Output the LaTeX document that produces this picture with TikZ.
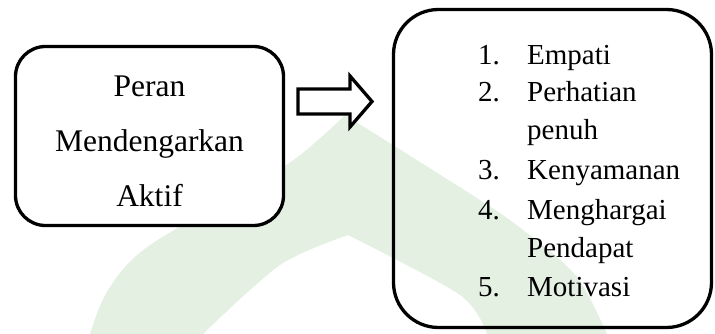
\documentclass[tikz,border=0pt]{standalone}
\usepackage{fontspec}
\setmainfont{Liberation Serif}
\definecolor{wm}{RGB}{228,240,226}
\begin{document}
\begin{tikzpicture}[x=1pt,y=-1pt,
  box/.style={draw=black, line width=3.3pt},
  lbl/.style={inner sep=0pt, anchor=base, font=\fontsize{31.5}{36}\selectfont},
  item/.style={inner sep=0pt, anchor=base west, font=\fontsize{29}{34}\selectfont}]
\useasboundingbox (0,0) rectangle (715,334);
% watermark
\fill[wm] plot[smooth] coordinates {(90,334) (108,290) (150,245) (285,166) (345,115)}
  -- plot[smooth] coordinates {(345,115) (480,200) (527,233) (577,277) (607,334)}
  -- plot[smooth] coordinates {(487,334) (460,295) (348,235)}
  -- plot[smooth] coordinates {(348,235) (280,265) (203,334)} -- cycle;
% left box
\node[box, fill=white, rounded corners=30pt, minimum width=268pt, minimum height=179pt] (left) at (149.5,136) {};
\node[lbl] (l1) at (149.5,97) {Peran};
\node[lbl] (l2) at (149.5,152) {Mendengarkan};
\node[lbl] (l3) at (149.5,207) {Aktif};
% arrow
\draw[box, fill=white, line join=miter] (298,89) -- (350,89) -- (350,76) -- (372,101.5) -- (350,127) -- (350,114) -- (298,114) -- cycle;
% right box
\node[box, rounded corners=45pt, minimum width=318pt, minimum height=318pt] (right) at (552.5,168.5) {};
\node[item] (n1) at (478,65) {1.};
\node[item] (t1) at (527,65) {Empati};
\node[item] (n2) at (478,102) {2.};
\node[item] (t2) at (527,102) {Perhatian};
\node[item] (t2b) at (527,140) {penuh};
\node[item] (n3) at (478,179) {3.};
\node[item] (t3) at (527,179) {Kenyamanan};
\node[item] (n4) at (478,219) {4.};
\node[item] (t4) at (527,219) {Menghargai};
\node[item] (t4b) at (527,257) {Pendapat};
\node[item] (n5) at (478,296) {5.};
\node[item] (t5) at (527,296) {Motivasi};
\end{tikzpicture}
\end{document}
